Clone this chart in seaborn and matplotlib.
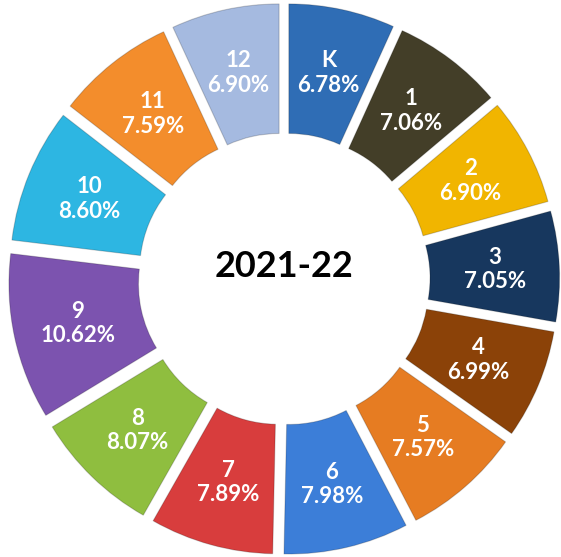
import matplotlib
matplotlib.use("Agg")
import matplotlib.pyplot as plt
import seaborn as sns
import numpy as np

sns.set_theme(style="white")
plt.rcParams['font.family'] = ['Lato', 'DejaVu Sans']

grades = ["K", "1", "2", "3", "4", "5", "6", "7", "8", "9", "10", "11", "12"]
shares = [6.78, 7.06, 6.90, 7.05, 6.99, 7.57, 7.98, 7.89, 8.07, 10.62, 8.60, 7.59, 6.90]
colors = ["#2F6DB5", "#433E28", "#F1B500", "#17375E", "#8B4208", "#E67C22",
          "#3C7ED8", "#D83D3D", "#8FBE3F", "#7C53AF", "#2DB6E2", "#F38D2C", "#A5BAE0"]
center_title = "2021-22"

fig = plt.figure(figsize=(5.61, 5.57), dpi=100)
ax = fig.add_axes([0, 0, 1, 1])

ex = 0.09
explode = [ex] * len(shares)
wedges, _ = ax.pie(shares, colors=colors, startangle=90, counterclock=False,
                   explode=explode, radius=0.995,
                   wedgeprops=dict(width=0.51, linewidth=0.8, edgecolor="#00000030"))

total = sum(shares)
cum = 0.0
r_lab = 0.74 + ex
for g, v in zip(grades, shares):
    mid = 90 - (cum + v / 2) / total * 360
    cum += v
    x = r_lab * np.cos(np.deg2rad(mid))
    y = r_lab * np.sin(np.deg2rad(mid))
    ax.text(x, y, f"{g}\n{v:.2f}%", ha="center", va="center", color="white",
            fontsize=16, fontweight="bold", linespacing=1.2)

ax.text(0, 0.05, center_title, ha="center", va="center", color="black",
        fontsize=26, fontweight="bold")

s = 254.0
ax.set_xlim(-284 / s, (561 - 284) / s)
ax.set_ylim(-278 / s, 279 / s)
ax.set_aspect("equal")
ax.axis("off")

fig.savefig("out.png", dpi=100)
